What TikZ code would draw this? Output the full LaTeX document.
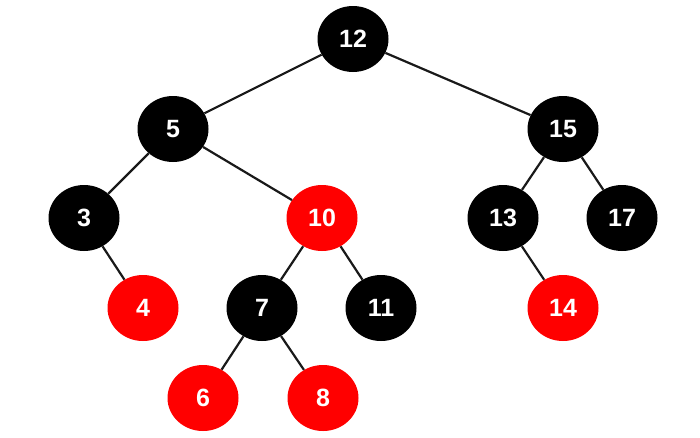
\documentclass[tikz,border=0pt]{standalone}
\usepackage{fontspec}
\setmainfont{Liberation Sans}
\usetikzlibrary{shapes.geometric}
\begin{document}
\begin{tikzpicture}[x=1pt,y=-1pt,
  rb/.style={ellipse,minimum width=71pt,minimum height=66pt,inner sep=0pt,text=white,font=\fontsize{25}{27}\selectfont\bfseries},
  bn/.style={rb,fill=black},
  rn/.style={rb,fill=red},
  edge/.style={line width=2.2pt,draw=black!90}]
\useasboundingbox (0,0) rectangle (700,437);
\node[bn] (n12) at (353,39) {12};
\node[bn] (n5) at (173,129) {5};
\node[bn] (n15) at (563,129) {15};
\node[bn] (n3) at (84,218) {3};
\node[rn] (n10) at (322,218) {10};
\node[bn] (n13) at (503,218) {13};
\node[bn] (n17) at (622,218) {17};
\node[rn] (n4) at (143,308) {4};
\node[bn] (n7) at (262,308) {7};
\node[bn] (n11) at (381,308) {11};
\node[rn] (n14) at (563,308) {14};
\node[rn] (n6) at (203,398) {6};
\node[rn] (n8) at (323,398) {8};
\draw[edge] (n12) -- (n5);
\draw[edge] (n12) -- (n15);
\draw[edge] (n5) -- (n3);
\draw[edge] (n5) -- (n10);
\draw[edge] (n3) -- (n4);
\draw[edge] (n10) -- (n7);
\draw[edge] (n10) -- (n11);
\draw[edge] (n7) -- (n6);
\draw[edge] (n7) -- (n8);
\draw[edge] (n15) -- (n13);
\draw[edge] (n15) -- (n17);
\draw[edge] (n13) -- (n14);
\end{tikzpicture}
\end{document}
